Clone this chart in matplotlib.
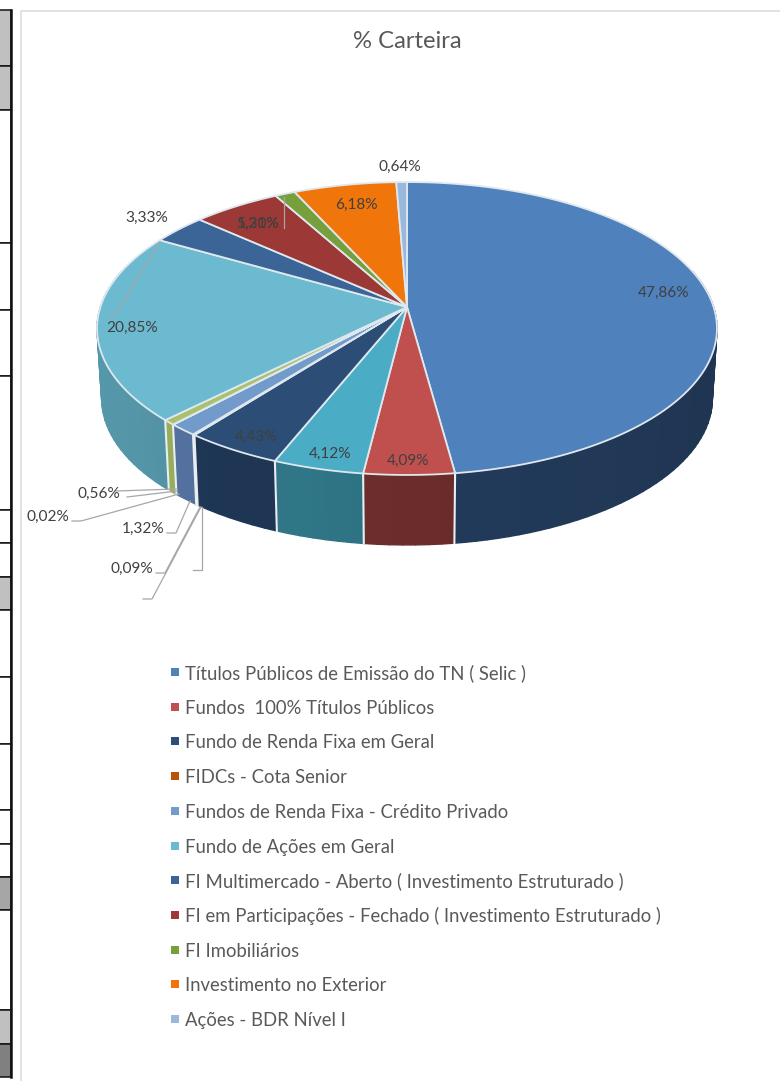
import matplotlib
matplotlib.use("Agg")
import matplotlib.pyplot as plt
import numpy as np
from matplotlib.collections import PolyCollection
from matplotlib.colors import to_rgb
from matplotlib.patches import Rectangle, Polygon

plt.rcParams["font.family"] = ["Lato", "DejaVu Sans"]

title = "% Carteira"

# slices clockwise from 12 o'clock (two have no legend entry in the original)
values = [47.86, 4.09, 4.12, 4.43, 0.09, 1.32, 0.02, 0.56, 20.85, 3.33, 5.30, 1.21, 6.18, 0.64]
top_colors = ["#4f81bd", "#c0504d", "#4bacc6", "#2c4d75", "#b65708", "#729aca", "#7f7fc0",
              "#a9c16f", "#6cbad0", "#3a6596", "#9c3835", "#77a03c", "#f0760c", "#9ab7dc"]
wall_colors = ["#1f3552", "#6b2d2b", "#2f7585", "#1e3654", "#7a3a06", "#54709e", "#5a5a90",
               "#97ad5c", "#5698ab", "#27456a", "#6b2725", "#52702a", "#a85208", "#6c82a0"]

legend_names = ["Títulos Públicos de Emissão do TN ( Selic )", "Fundos  100% Títulos Públicos",
                "Fundo de Renda Fixa em Geral", "FIDCs - Cota Senior",
                "Fundos de Renda Fixa - Crédito Privado", "Fundo de Ações em Geral",
                "FI Multimercado - Aberto ( Investimento Estruturado )",
                "FI em Participações - Fechado ( Investimento Estruturado )",
                "FI Imobiliários", "Investimento no Exterior", "Ações - BDR Nível I"]
legend_colors = ["#4f81bd", "#c0504d", "#2c4d75", "#b65708", "#729aca", "#6cbad0",
                 "#3a6596", "#9c3835", "#77a03c", "#f0760c", "#9ab7dc"]

# label position per slice, in image pixels
label_pos = [(664, 293), (408, 461), (330, 454), (256, 437), (132, 569), (143, 529), (48, 517),
             (99, 494), (132, 328), (147, 218), (258, 224), (258, 224), (356, 205), (400, 167)]
leaders = [[(116, 491), (176, 489)],
           [(127, 497), (177, 491)], [(72, 521), (81, 521), (179, 494)],
           [(167, 533), (176, 533), (190, 501)], [(156, 573), (165, 573), (200, 507)],
           [(143, 599), (152, 599), (201, 507)], [(193, 570), (202, 570), (202, 507)],
           [(284, 197), (284, 228)], [(109, 315), (115, 315), (160, 242)]]

# left table strip: row edges and fill
table_edges = [10, 66, 110, 243, 310, 376, 510, 543, 577, 610, 677, 744, 810, 844, 877, 910, 1010, 1044, 1077]
table_fills = ["#c0c0c0", "#c0c0c0", "w", "w", "w", "w", "w", "w", "#c0c0c0", "w", "w", "w", "w", "w",
               "#a6a6a6", "w", "#c0c0c0", "#808080"]

cx, cy = 407, 307
rx, ry, k = 306.6, 143.3, 0.1468
depth = 70


def project(theta, scale=1.0, drop=0.0):
    u, v = np.sin(theta), np.cos(theta)
    w = 1 + k * v
    return cx + scale * rx * u / w, cy + drop - ry * v / w


fig = plt.figure(figsize=(7.8, 10.81), dpi=100)
ax = fig.add_axes([0, 0, 1, 1])
ax.set_xlim(0, 780)
ax.set_ylim(1081, 0)
ax.axis("off")

# table strip
for i, fill in enumerate(table_fills):
    ax.add_patch(Rectangle((-2, table_edges[i]), 13, table_edges[i + 1] - table_edges[i],
                           fc=fill, ec="#111111", lw=1.1))
ax.plot([10.5, 10.5], [10, 1077], color="#111111", lw=1.8)

# chart frame
ax.plot([20.5, 20.5, 780], [1081, 10.5, 10.5], color="#e2e2e2", lw=1.4)

edges = np.r_[0, np.cumsum(values)] / sum(values) * 2 * np.pi

# side wall, split in strips so the shading can follow the rim
polys, cols = [], []
for i in range(len(values)):
    if values[i] < 0.05:
        continue
    th = np.linspace(edges[i], edges[i + 1], max(2, int(values[i] * 2)))
    umid = np.sin((edges[i] + edges[i + 1]) / 2)
    base = np.array(to_rgb(wall_colors[i]))
    for a, b in zip(th[:-1], th[1:]):
        if np.cos((a + b) / 2) > 0.25:
            continue
        xa, ya = project(a)
        xb, yb = project(b)
        xc, yc = project(b, 0.985, depth)
        xd, yd = project(a, 0.985, depth)
        polys.append([(xa, ya), (xb, yb), (xc, yc), (xd, yd)])
        shade = 1 - 0.12 * (np.sin((a + b) / 2) - umid)
        cols.append(tuple(np.clip(base * shade, 0, 1)))
ax.add_collection(PolyCollection(polys, facecolors=cols, edgecolors=cols, lw=1.0, zorder=2))

# white seams on the wall
for i in range(len(values)):
    a = edges[i]
    if np.cos(a) < 0.1 and values[i] >= 0.05:
        x0, y0 = project(a)
        x1, y1 = project(a, 0.985, depth)
        ax.plot([x0, x1], [y0, y1], color="#e8eef2", lw=1.5, zorder=3)

# top face
for i in range(len(values)):
    th = np.linspace(edges[i], edges[i + 1], max(2, int(values[i] * 8)))
    x, y = project(th)
    pts = np.r_[[(cx, cy)], np.c_[x, y]]
    ax.add_patch(Polygon(pts, closed=True, fc=top_colors[i], ec="#dfe8ee", lw=1.3, zorder=4,
                         joinstyle="round"))

# labels and leader lines
for pts in leaders:
    pts = np.array(pts)
    ax.plot(pts[:, 0], pts[:, 1], color="#a6a6a6", lw=0.9, zorder=5)
for val, pos in zip(values, label_pos):
    ax.text(pos[0], pos[1], f"{val:.2f}%".replace(".", ","), ha="center", va="center",
            fontsize=11.1, color="#404040", zorder=6)

ax.text(407, 41, title, ha="center", va="center", fontsize=17.2, color="#595959")

# legend rows by hand: ax.legend spaces rows unevenly with the text heights
for i, (name, c) in enumerate(zip(legend_names, legend_colors)):
    y = 672 + 34.7 * i
    ax.add_patch(Rectangle((171, y - 4), 8, 8, fc=c, ec="none"))
    ax.text(185, y, name, ha="left", va="center_baseline", fontsize=13.35, color="#595959")

fig.savefig("out.png", dpi=100)
